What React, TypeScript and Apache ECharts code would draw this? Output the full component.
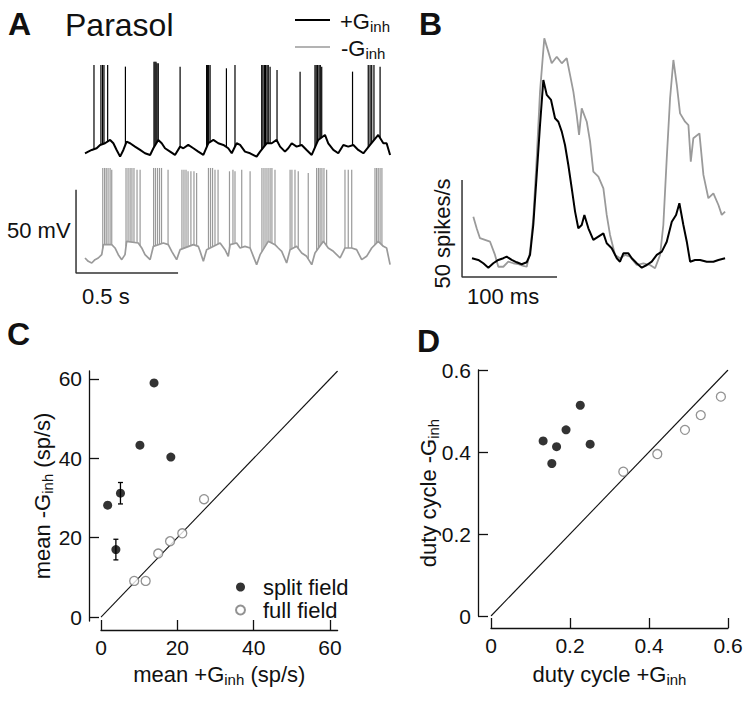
import React, { useEffect, useRef } from 'react';
import * as echarts from 'echarts';

const FONT = "'Liberation Sans', Arial, Helvetica, sans-serif";
const INK = '#111';
const GREY = '#9a9a9a';

// ---------- Panel A: membrane potential (t in ms, V in mV) ----------
const traceAPlus: number[][] = [
  [0, -62], [16, -61], [33, -60], [57, -59], [74, -57], [98, -56], [123, -54], [139, -56], [155, -60], [172, -64],
  [188, -60], [204, -55], [221, -56], [245, -58], [270, -60], [294, -62], [319, -63], [335, -59], [359, -54], [376, -56],
  [392, -59], [417, -61], [441, -63], [466, -58], [482, -59], [506, -57], [531, -59], [555, -61], [580, -63], [604, -56],
  [629, -54], [653, -56], [678, -57], [702, -59], [719, -62], [743, -56], [760, -57], [784, -61], [809, -62], [841, -64],
  [858, -61], [890, -56], [915, -56], [939, -54], [956, -58], [980, -61], [996, -59], [1013, -56], [1037, -58], [1062, -57],
  [1086, -60], [1111, -63], [1143, -54], [1176, -51], [1192, -56], [1217, -60], [1241, -62], [1266, -57], [1290, -58], [1315, -57],
  [1339, -60], [1364, -62], [1397, -57], [1437, -51], [1462, -56], [1478, -56], [1495, -63],
];
const spikesAPlus: number[][] = [
  [44, -9], [78, -9], [86, -9], [93, -9], [111, -9], [198, -10], [338, -7], [343, -7], [348, -7], [353, -8], [359, -8],
  [466, -10], [596, -9], [601, -9], [606, -9], [613, -9], [693, -11], [735, -9], [866, -9], [872, -9], [879, -9], [885, -9],
  [892, -9], [898, -9], [907, -10], [941, -12], [1054, -13], [1127, -9], [1133, -9], [1140, -9], [1147, -9], [1153, -9],
  [1160, -10], [1311, -13], [1388, -9], [1397, -9], [1405, -9], [1416, -9], [1446, -10],
];
const traceAMinus: number[][] = [
  [0, -60], [16, -62], [33, -63], [49, -61], [65, -60], [82, -58], [90, -52], [131, -52], [147, -54], [163, -58],
  [180, -61], [196, -58], [204, -50], [261, -51], [278, -54], [294, -58], [319, -61], [335, -53], [384, -51], [408, -52],
  [425, -56], [449, -61], [466, -55], [531, -52], [555, -53], [564, -56], [580, -62], [596, -55], [662, -51], [686, -55],
  [702, -59], [711, -52], [743, -51], [760, -54], [784, -53], [809, -54], [825, -59], [841, -64], [858, -58], [898, -50],
  [931, -52], [947, -54], [964, -56], [988, -63], [1005, -55], [1037, -53], [1062, -57], [1086, -59], [1111, -64], [1127, -57],
  [1168, -50], [1192, -54], [1217, -56], [1250, -60], [1274, -54], [1307, -54], [1331, -55], [1356, -61], [1380, -59], [1405, -54],
  [1437, -50], [1462, -53], [1478, -54], [1495, -64],
];
const spikesAMinus: number[][] = [
  [87, -6], [96, -6], [104, -6], [113, -6], [123, -6], [131, -7],
  [201, -6], [211, -6], [221, -6], [230, -6], [240, -6], [255, -7], [270, -7],
  [336, -6], [345, -6], [355, -6], [365, -6], [375, -6], [407, -7],
  [475, -7], [485, -7], [495, -7], [505, -8], [519, -8], [534, -8], [547, -9],
  [605, -6], [615, -6], [625, -6], [637, -7], [652, -7],
  [708, -8], [725, -7], [735, -8], [768, -7], [809, -8],
  [867, -6], [877, -6], [887, -6], [897, -6], [907, -6], [916, -6], [931, -7],
  [1005, -7], [1014, -7], [1029, -7], [1045, -8], [1094, -9],
  [1135, -6], [1144, -6], [1152, -6], [1161, -6], [1171, -6], [1184, -7],
  [1274, -7], [1290, -7], [1307, -7],
  [1421, -6], [1429, -6], [1437, -6], [1446, -6], [1455, -6],
];
const scaleBarA: number[][] = [[-44, -19], [-44, -69], [456, -69]]; // 50 mV, 0.5 s

// ---------- Panel B: firing rate (t in ms, spikes/s) ----------
const rateBPlus: number[][] = [
  [0, 7.1], [6.6, 6.2], [11.9, 4.5], [17.2, 2.2], [22.4, 4.5], [27.7, 6.2], [33, 7.1], [36.5, 7.9], [41.8, 6.2], [47.1, 5.0],
  [52.3, 4.0], [57.6, 5.0], [61.1, 8.8], [64.5, 24.2], [68.1, 50], [71.6, 75.7], [75.1, 98.9], [78.7, 91.2], [83.2, 88.6], [87.4, 79.2],
  [90.9, 77.4], [94.5, 72.3], [97.9, 65.4], [101.4, 55.1], [105, 43.1], [108.5, 31.1], [111.9, 22.5], [115.5, 24.2], [118.3, 29.4], [122.5, 22.5],
  [127.7, 16.5], [133, 18.2], [138.3, 19.9], [141.8, 14.8], [147.1, 12.2], [152.4, 7.1], [155.8, 5.3], [159.3, 9.6], [164.6, 9.6], [168.2, 7.1],
  [173.4, 4.5], [178.7, 2.2], [184, 3.6], [189.2, 5.3], [194.5, 8.8], [199.8, 10.5], [205, 15.6], [210.3, 25.9], [214.8, 29.4], [218.3, 35.4],
  [222.5, 24.2], [226.1, 15.6], [229.6, 5.3], [234.8, 6.2], [240.1, 6.2], [247.1, 5.3], [254.1, 5.3], [259.4, 6.2], [266.4, 7.1],
];
const rateBMinus: number[][] = [
  [1.4, 28.5], [4.9, 22.5], [8.4, 17.4], [13.7, 16.5], [19, 15.6], [24.2, 8.8], [27.7, 2.7], [33, 2.7], [38.2, 5.3], [43.5, 4.5],
  [48.8, 4.0], [54, 3.2], [57.6, 2.7], [61.1, 10.5], [64.5, 27.7], [68.1, 58.6], [71.6, 92.9], [76.1, 120.4], [80.3, 113.5], [83.9, 107.5],
  [89.2, 110.9], [94.5, 107.5], [99.7, 110.1], [103.2, 101.5], [106.7, 92.9], [110.2, 80.9], [112.7, 70.6], [115.5, 84.3], [120.8, 77.4], [124.3, 67.1],
  [127.7, 51.7], [133, 49.1], [138.3, 43.1], [141.8, 29.4], [145.3, 19.1], [150.6, 8.8], [155.8, 7.1], [161.1, 8.8], [166.4, 7.9], [173.4, 3.6],
  [180.4, 4.5], [187.4, 3.6], [192.7, 1.9], [198, 8.8], [201.4, 24.2], [205, 58.6], [208.5, 89.5], [212, 109.2], [215.6, 96.3], [219, 81.7],
  [224.3, 77.4], [227.8, 75.7], [230.3, 56.8], [233, 68.9], [239.4, 71.4], [243.6, 50], [248.8, 38], [254.1, 40.5], [259.4, 34.5], [262.9, 29.4],
  [266.4, 31.1],
];
const scaleBarB: number[][] = [[-10.5, 47.4], [-10.5, -2.6], [89.5, -2.6]]; // 50 spikes/s, 100 ms

// ---------- Panel C: mean rates (sp/s) ----------
const splitC: number[][] = [[13.9, 59.0], [10.2, 43.3], [18.3, 40.3], [1.75, 28.2], [5.1, 31.2], [3.9, 17.0]];
const fullC: number[][] = [[8.7, 9.1], [11.7, 9.1], [15.0, 16.0], [18.1, 19.1], [21.3, 21.1], [27.0, 29.7]];
const errC: number[][] = [[5.1, 31.2, 2.7], [3.9, 17.0, 2.6]];
const diagC: number[][] = [[0, 0], [62, 62]];
const ticksC = [0, 20, 40, 60];

// ---------- Panel D: duty cycle ----------
const splitD: number[][] = [[0.132, 0.427], [0.154, 0.372], [0.166, 0.413], [0.19, 0.454], [0.226, 0.514], [0.251, 0.419]];
const fullD: number[][] = [[0.335, 0.352], [0.421, 0.395], [0.491, 0.454], [0.531, 0.49], [0.582, 0.535]];
const diagD: number[][] = [[0, 0], [0.6, 0.6]];
const ticksD = [0, 0.2, 0.4, 0.6];

// spike foot = trace level at the spike time
function spikeSegments(base: number[][], spikes: number[][]): number[][] {
  return spikes.map(([t, peak]) => {
    let i = base.findIndex((p) => p[0] >= t);
    if (i <= 0) i = Math.max(i, 1);
    const a = base[i - 1];
    const b = base[i];
    const f = (t - a[0]) / (b[0] - a[0]);
    return [t, a[1] + f * (b[1] - a[1]), peak];
  });
}

const subRich = (size: number) => ({
  sub: { fontSize: size, fontFamily: FONT, color: INK, padding: [11, 0, 0, 0] },
});

const hiddenAxis = (gridIndex: number, min: number, max: number) => ({
  gridIndex, type: 'value', min, max, show: false, splitLine: { show: false },
});

const sciAxis = (
  gridIndex: number, min: number, max: number, ticks: number[], offset: number,
  name: string, nameGap: number, fmt?: (v: number) => string,
) => ({
  gridIndex, type: 'value', min, max, offset,
  axisLine: { show: true, onZero: false, lineStyle: { color: INK, width: 1.3 } },
  axisTick: { show: true, inside: true, length: 10, customValues: ticks, lineStyle: { color: INK, width: 1.3 } },
  axisLabel: {
    customValues: ticks, fontSize: 21, color: INK, fontFamily: FONT, margin: 7,
    formatter: fmt || ((v: number) => String(v)),
  },
  splitLine: { show: false },
  name, nameLocation: 'middle', nameGap, nameMoveOverlap: false,
  nameTextStyle: { fontSize: 22, color: INK, fontFamily: FONT, rich: subRich(15) },
});

const traceLine = (name: string, xi: number, data: number[][], color: string, width: number) => ({
  type: 'line', name, xAxisIndex: xi, yAxisIndex: xi, data, showSymbol: false, symbol: 'none',
  lineStyle: { color, width }, silent: true, z: 2,
});

const spikeSeries = (name: string, xi: number, data: number[][], color: string, width: number) => ({
  type: 'custom', name, xAxisIndex: xi, yAxisIndex: xi, data, encode: { x: 0, y: [1, 2] }, silent: true, z: 2,
  renderItem: (_p: any, api: any) => {
    const t = api.value(0);
    const foot = api.coord([t, api.value(1)]);
    const peak = api.coord([t, api.value(2)]);
    return {
      type: 'line',
      shape: { x1: foot[0], y1: foot[1], x2: peak[0], y2: peak[1] },
      style: { stroke: color, lineWidth: width },
    };
  },
});

const errorBars = {
  type: 'custom', name: 'sem', xAxisIndex: 3, yAxisIndex: 3, data: errC, encode: { x: 0, y: 1 }, z: 1, silent: true,
  renderItem: (_p: any, api: any) => {
    const x = api.value(0), y = api.value(1), e = api.value(2);
    const hi = api.coord([x, y + e]);
    const lo = api.coord([x, y - e]);
    const s = { stroke: '#000', lineWidth: 1.3 };
    const cap = 2.5;
    return {
      type: 'group',
      children: [
        { type: 'line', shape: { x1: hi[0], y1: hi[1], x2: lo[0], y2: lo[1] }, style: s },
        { type: 'line', shape: { x1: hi[0] - cap, y1: hi[1], x2: hi[0] + cap, y2: hi[1] }, style: s },
        { type: 'line', shape: { x1: lo[0] - cap, y1: lo[1], x2: lo[0] + cap, y2: lo[1] }, style: s },
      ],
    };
  },
};

const filled = (xi: number, data: number[][]) => ({
  type: 'scatter', name: 'split field', xAxisIndex: xi, yAxisIndex: xi, data, symbol: 'circle', symbolSize: 9,
  itemStyle: { color: '#000' }, z: 3,
});
const open = (xi: number, data: number[][]) => ({
  type: 'scatter', name: 'full field', xAxisIndex: xi, yAxisIndex: xi, data, symbol: 'circle', symbolSize: 9,
  itemStyle: { color: '#fff', borderColor: '#777', borderWidth: 1.3 }, z: 3,
});

const txt = (x: number, y: number, text: string, size: number, extra: any = {}) => ({
  type: 'text', x, y, silent: true, ...extra.el,
  style: {
    text, fontSize: size, fontFamily: FONT, fill: INK, align: 'left', verticalAlign: 'middle',
    rich: subRich(15), ...extra.style,
  },
});

const option: any = {
  animation: false,
  backgroundColor: '#fff',
  grid: [
    { left: 74.8, top: 58.3, width: 316.3, height: 108.3, outerBoundsMode: 'none' },
    { left: 74.8, top: 166.3, width: 316.3, height: 116.7, outerBoundsMode: 'none' },
    { left: 460.6, top: 29.3, width: 267.9, height: 252.4, outerBoundsMode: 'none' },
    { left: 101, top: 371, width: 236.6, height: 250, outerBoundsMode: 'none' },
    { left: 491, top: 370, width: 237, height: 246, outerBoundsMode: 'none' },
  ],
  xAxis: [
    hiddenAxis(0, -50, 1500),
    hiddenAxis(1, -50, 1500),
    hiddenAxis(2, -12, 270),
    sciAxis(3, 0, 62, ticksC, 9, 'mean +G{sub|inh} (sp/s)', 31),
    sciAxis(4, 0, 0.6, ticksD, 12, 'duty cycle +G{sub|inh}', 33, (v: number) => (v === 0 ? '0' : v.toFixed(1))),
  ],
  yAxis: [
    hiddenAxis(0, -70, -5),
    hiddenAxis(1, -75, -5),
    hiddenAxis(2, -5, 125),
    sciAxis(3, -1, 62, ticksC, 12, 'mean -G{sub|inh} (sp/s)', 34),
    sciAxis(4, 0, 0.6, ticksD, 13, 'duty cycle -G{sub|inh}', 37, (v: number) => (v === 0 ? '0' : v.toFixed(1))),
  ],
  legend: {
    data: ['split field', 'full field'],
    orient: 'vertical', left: 230, top: 571, itemWidth: 35, itemHeight: 9, itemGap: 1,
    selectedMode: false,
    textStyle: { fontSize: 22, fontFamily: FONT, color: INK, lineHeight: 22 },
  },
  series: [
    traceLine('+Ginh trace', 0, traceAPlus, '#000', 2),
    spikeSeries('+Ginh spikes', 0, spikeSegments(traceAPlus, spikesAPlus), '#000', 1.2),
    traceLine('-Ginh trace', 1, traceAMinus, GREY, 1.7),
    spikeSeries('-Ginh spikes', 1, spikeSegments(traceAMinus, spikesAMinus), GREY, 1.2),
    traceLine('scale A', 1, scaleBarA, '#333', 1.5),
    traceLine('-Ginh rate', 2, rateBMinus, GREY, 1.8),
    traceLine('+Ginh rate', 2, rateBPlus, '#000', 2),
    traceLine('scale B', 2, scaleBarB, '#333', 1.5),
    traceLine('unity C', 3, diagC, INK, 1.1),
    errorBars,
    filled(3, splitC),
    open(3, fullC),
    traceLine('unity D', 4, diagD, INK, 1.1),
    filled(4, splitD),
    open(4, fullD),
  ],
  graphic: [
    txt(8, 24, 'A', 32, { style: { fontWeight: 'bold' } }),
    txt(65, 25, 'Parasol', 32),
    txt(419, 24, 'B', 32, { style: { fontWeight: 'bold' } }),
    txt(7, 334, 'C', 32, { style: { fontWeight: 'bold' } }),
    txt(417, 341, 'D', 32, { style: { fontWeight: 'bold' } }),
    { type: 'line', silent: true, shape: { x1: 295, y1: 20, x2: 330, y2: 20 }, style: { stroke: '#000', lineWidth: 2 } },
    { type: 'line', silent: true, shape: { x1: 295, y1: 47, x2: 330, y2: 47 }, style: { stroke: GREY, lineWidth: 1.5 } },
    txt(340, 21, '+G{sub|inh}', 22),
    txt(341, 48, '-G{sub|inh}', 22),
    txt(7, 230.5, '50 mV', 22),
    txt(82, 296, '0.5 s', 22),
    txt(467, 296, '100 ms', 22),
    txt(442, 233.5, '50 spikes/s', 22, { el: { rotation: Math.PI / 2 }, style: { align: 'center' } }),
  ],
};

export default function App() {
  const ref = useRef<HTMLDivElement>(null);
  useEffect(() => {
    const chart = echarts.init(ref.current!, null, { renderer: 'svg' });
    chart.setOption(option);
    return () => chart.dispose();
  }, []);
  return (
    <div
      ref={ref}
      style={{ position: 'absolute', left: 0, top: 0, width: 750, height: 701, background: '#fff' }}
    />
  );
}
